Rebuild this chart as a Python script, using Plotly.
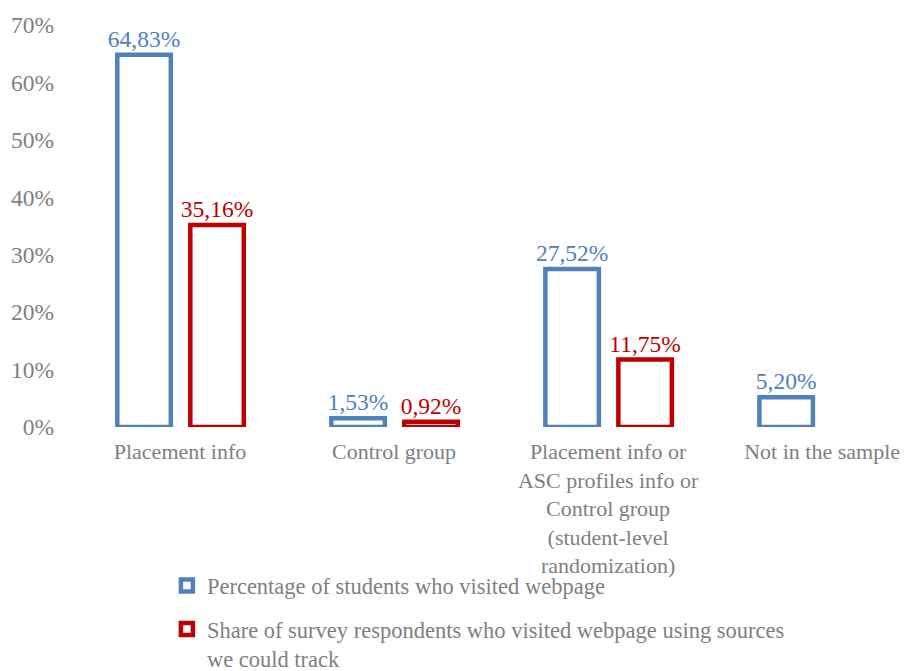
import plotly.graph_objects as go

# Categories and series (percent values)
categories = [
    "Placement info",
    "Control group",
    "Placement info or<br>ASC profiles info or<br>Control group<br>(student-level<br>randomization)",
    "Not in the sample",
]
visited_pct = [64.83, 1.53, 27.52, 5.20]
tracked_pct = [35.16, 0.92, 11.75, None]

series_names = [
    "Percentage of students who visited webpage",
    "Share of survey respondents who visited webpage using sources<br>we could track",
]
y_ticks = [0, 10, 20, 30, 40, 50, 60, 70]
y_tick_labels = [f"{t}%" for t in y_ticks]

BLUE = "#4F81BD"
RED = "#C00000"
GREY = "#7F7F7F"
SERIF = "Liberation Serif, Times New Roman, serif"


def fmt(v):
    return "" if v is None else f"{v:.2f}%".replace(".", ",")


fig = go.Figure()
fig.add_trace(go.Bar(
    x=categories, y=visited_pct, name=series_names[0],
    marker=dict(color="white", line=dict(color=BLUE, width=4.5)),
    width=0.25, offset=-0.293,
    text=[fmt(v) for v in visited_pct], textposition="outside",
    textfont=dict(family=SERIF, size=23.5, color=BLUE),
    constraintext="none", cliponaxis=False, legend="legend",
))
fig.add_trace(go.Bar(
    x=categories, y=tracked_pct, name=series_names[1],
    marker=dict(color="white", line=dict(color=RED, width=4.5)),
    width=0.25, offset=0.048,
    text=[fmt(v) for v in tracked_pct], textposition="outside",
    textfont=dict(family=SERIF, size=23.5, color=RED),
    constraintext="none", cliponaxis=False, legend="legend2",
))

legend_style = dict(
    font=dict(family=SERIF, size=22.5, color=GREY),
    xref="container", yref="container",
    xanchor="left", yanchor="top", valign="top",
    bgcolor="rgba(0,0,0,0)", itemclick=False,
)

fig.update_layout(
    width=912, height=671,
    margin=dict(l=73, r=0, t=25, b=244, autoexpand=False),
    paper_bgcolor="white", plot_bgcolor="white",
    barmode="overlay",
    showlegend=True,
    legend=dict(x=0.183, y=0.159, **legend_style),
    legend2=dict(x=0.183, y=0.094, **legend_style),
    xaxis=dict(
        type="category", range=[-0.5, 3.42],
        showgrid=False, showline=False, zeroline=False,
        ticks="", tickfont=dict(family=SERIF, size=22, color=GREY),
        tickangle=0, ticklabelstandoff=9,
    ),
    yaxis=dict(
        range=[0, 70], tickmode="array", tickvals=y_ticks, ticktext=y_tick_labels,
        showgrid=False, showline=False, zeroline=False,
        ticks="", tickfont=dict(family=SERIF, size=23.5, color=GREY),
        ticklabelstandoff=18,
    ),
)

fig.write_html("out.html")
